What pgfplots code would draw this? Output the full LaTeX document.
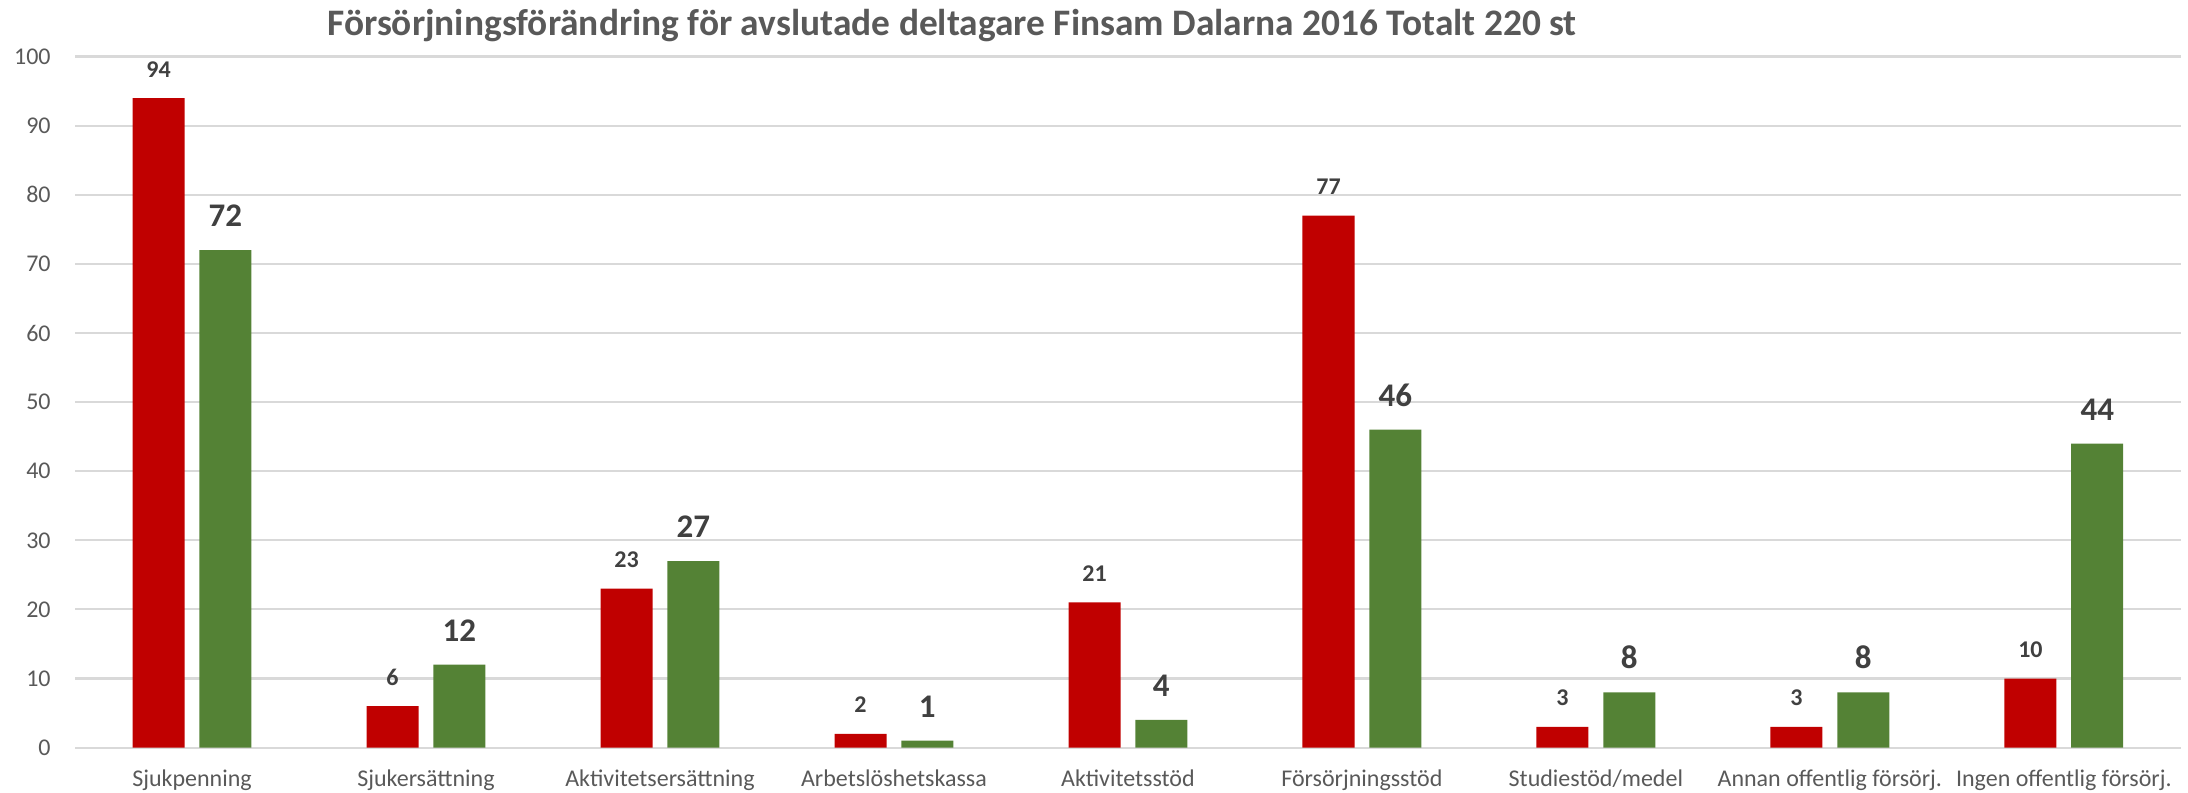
\documentclass[border=0pt]{standalone}
\usepackage{pgfplots}
\pgfplotsset{compat=1.18}
\usepackage{fontspec}
\setmainfont{Carlito}
\definecolor{cred}{HTML}{C00000}
\definecolor{cgreen}{HTML}{548235}
\definecolor{gridc}{HTML}{D9D9D9}
\definecolor{tickc}{HTML}{595959}
\definecolor{labc}{HTML}{404040}
\begin{document}
\begin{tikzpicture}
\path[use as bounding box] (0,0) rectangle (1094pt,396pt);
\node[anchor=base, font=\bfseries\fontsize{18.7}{21}\selectfont, text=tickc] at (476pt,378pt) {Försörjningsförändring för avslutade deltagare Finsam Dalarna 2016 Totalt 220 st};
\begin{axis}[
  at={(37.5pt,22.2pt)}, anchor=south west,
  scale only axis, width=1053pt, height=345.5pt,
  xmin=-0.5, xmax=8.5, ymin=0, ymax=100,
  ytick={0,10,...,100},
  xtick={0,...,8},
  xticklabels={Sjukpenning,Sjukersättning,Aktivitetsersättning,Arbetslöshetskassa,Aktivitetsstöd,Försörjningsstöd,Studiestöd/medel,Annan offentlig försörj.,Ingen offentlig försörj.},
  axis line style={draw=none},
  ymajorgrids, grid style={draw=gridc, line width=1.1pt},
  major tick length=0pt,
  tick label style={font=\fontsize{12}{14}\selectfont, text=tickc},
  /pgf/number format/assume math mode=true,
  yticklabel style={anchor=east, inner sep=0pt, xshift=-12pt},
  xticklabel style={anchor=base, inner sep=0pt, yshift=-19.5pt},
  ybar, bar width=26pt,
  clip=false,
]
\addplot[fill=cred, draw=none, bar shift=-16.7pt, nodes near coords,
  every node near coord/.append style={font=\bfseries\fontsize{12}{14}\selectfont, text=labc, anchor=base, yshift=10.5pt, inner sep=0pt}]
  coordinates {(0,94) (1,6) (2,23) (3,2) (4,21) (5,77) (6,3) (7,3) (8,10)};
\addplot[fill=cgreen, draw=none, bar shift=16.7pt, nodes near coords,
  every node near coord/.append style={font=\bfseries\fontsize{16.5}{18}\selectfont, text=labc, anchor=base, yshift=11.7pt, inner sep=0pt}]
  coordinates {(0,72) (1,12) (2,27) (3,1) (4,4) (5,46) (6,8) (7,8) (8,44)};
\end{axis}
\end{tikzpicture}
\end{document}
